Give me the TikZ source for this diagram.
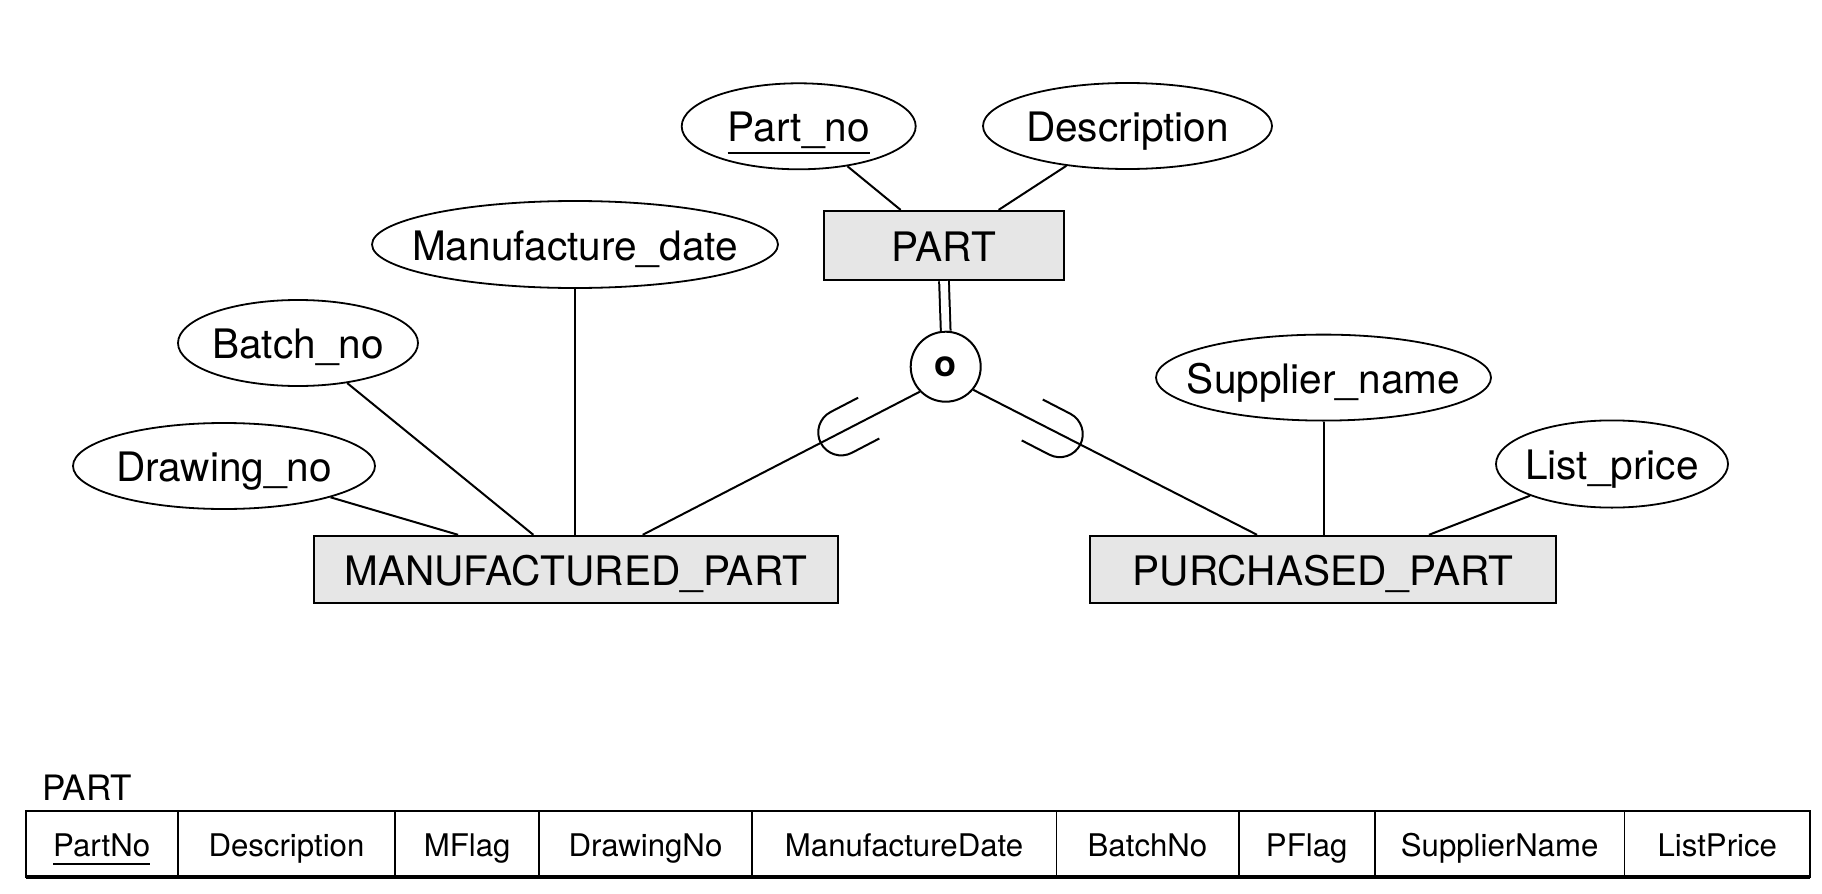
\documentclass[tikz,border=0pt]{standalone}
\usepackage{fontspec}
\setmainfont{TeX Gyre Heros}
\usetikzlibrary{calc,shapes.geometric}
\definecolor{boxgray}{HTML}{E6E6E6}
\newcommand\keyul[2]{\setbox0\hbox{#2}\rlap{\rule[#1]{\wd0}{1pt}}\box0}
\newcommand\zw[1]{\makebox[0pt]{#1}}
\tikzset{
  subsetU/.pic={\draw[line width=1pt] (0pt,11.5pt) -- (15.5pt,11.5pt) arc[start angle=90,end angle=-90,radius=11.5pt] -- (0pt,-11.5pt);}
}
\begin{document}
\begin{tikzpicture}[x=0.5pt,y=-0.5pt,
  attr/.style={ellipse, draw, line width=0.9pt, inner sep=0pt, fill=white,
    font=\fontsize{20.3}{24}\selectfont, text height=15.5pt, text depth=0pt},
  ent/.style={rectangle, draw, line width=1.1pt, fill=boxgray, inner sep=0pt,
    font=\fontsize{20.3}{24}\selectfont, text height=16pt, text depth=0pt},
  conn/.style={line width=1pt},
  cell/.style={rectangle, draw, line width=0.8pt, inner sep=0pt, outer sep=0pt, minimum height=33pt, anchor=west,
    font=\fontsize{15.6}{18}\selectfont, text height=13pt, text depth=0pt}]
\useasboundingbox (0,0) rectangle (1822,894);

% attributes
\node[attr, minimum width=117pt, minimum height=43pt] (pn) at (798.7,126.3) {\zw{\keyul{-6pt}{Part\_no}}};
\node[attr, minimum width=144.5pt, minimum height=43pt] (desc) at (1127.5,126) {\zw{Description}};
\node[attr, minimum width=203pt, minimum height=43.5pt] (md) at (575,244.5) {\zw{Manufacture\_date}};
\node[attr, minimum width=120pt, minimum height=43pt] (bn) at (298,343) {\zw{Batch\_no}};
\node[attr, minimum width=151pt, minimum height=43pt] (dn) at (224,466) {\zw{Drawing\_no}};
\node[attr, minimum width=167.5pt, minimum height=43pt] (sn) at (1323.5,377.6) {\zw{Supplier\_name}};
\node[attr, minimum width=116pt, minimum height=43.6pt] (lp) at (1612,464) {\zw{List\_price}};

% entities
\node[ent, minimum width=120pt, minimum height=34.5pt] (part) at (944,245.5) {PART};
\node[ent, minimum width=262pt, minimum height=33.5pt] (mp) at (575.7,569.4) {MANUFACTURED\_PART};
\node[ent, minimum width=233pt, minimum height=33.5pt] (pp) at (1323,569.4) {PURCHASED\_PART};

% specialization circle
\node[circle, draw, line width=1pt, fill=white, minimum size=35pt, inner sep=0pt,
  font=\fontsize{18}{20}\selectfont\bfseries] (circ) at (945.7,366.7) {o};

% attribute connectors
\draw[conn] (pn) -- (part);
\draw[conn] (desc) -- (part);
\draw[conn] (md.south) -- (md.south |- mp.north);
\draw[conn] (bn) -- (mp);
\draw[conn] (dn) -- (mp);
\draw[conn] (sn.south) -- (sn.south |- pp.north);
\draw[conn] (lp) -- ([xshift=53pt]pp.north);

% specialization connectors
\draw[line width=1pt, double, double distance=3.85pt] (part.south) -- (circ.north);
\coordinate (cl) at (circ.224.6);
\coordinate (cr) at (circ.320);
\coordinate (ml) at ([xshift=33.5pt]mp.north);
\coordinate (mr) at ([xshift=-33pt]pp.north);
\draw[conn] (cl) -- (ml);
\draw[conn] (cr) -- (mr);
\pic[rotate=207.5] at ($(cl)!28.75pt!(ml)$) {subsetU};
\pic[rotate=-27.3] at ($(cr)!33.1pt!(mr)$) {subsetU};

% relation table
\node[anchor=base west, inner sep=0pt, font=\fontsize{17.5}{20}\selectfont] (tlabel) at (41.7,800.7) {PART};
\node[cell, minimum width=76.05pt] (c1) at (25.7,843.7) {\keyul{-4.15pt}{PartNo}};
\node[cell, minimum width=108.65pt] (c2) at (c1.east) {Description};
\node[cell, minimum width=72.05pt] (c3) at (c2.east) {MFlag};
\node[cell, minimum width=106.3pt] (c4) at (c3.east) {DrawingNo};
\node[cell, minimum width=152.25pt] (c5) at (c4.east) {ManufactureDate};
\node[cell, minimum width=91.2pt] (c6) at (c5.east) {BatchNo};
\node[cell, minimum width=68pt] (c7) at (c6.east) {PFlag};
\node[cell, minimum width=124.9pt] (c8) at (c7.east) {SupplierName};
\node[cell, minimum width=92.75pt] (c9) at (c8.east) {ListPrice};
\draw[line width=1.2pt] (c1.north west) -- (c9.north east);
\draw[line width=1.8pt] (c1.south west) -- (c9.south east);
\end{tikzpicture}
\end{document}
